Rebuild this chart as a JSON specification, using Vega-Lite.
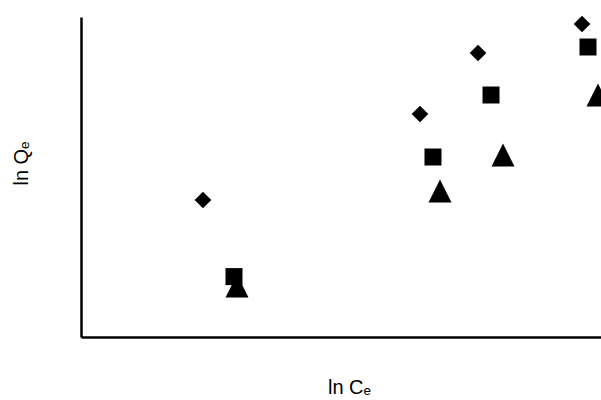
{
  "$schema": "https://vega.github.io/schema/vega-lite/v6.json",
  "autosize": "none",
  "width": 520,
  "height": 320,
  "padding": {"left": 81, "top": 17, "right": 0, "bottom": 63},
  "background": "white",
  "config": {"view": {"stroke": null}},
  "data": {
    "values": [
      {"series": "A", "lnCe": 2.346, "lnQe": 3.425},
      {"series": "A", "lnCe": 6.519, "lnQe": 5.575},
      {"series": "A", "lnCe": 7.635, "lnQe": 7.1},
      {"series": "A", "lnCe": 9.635, "lnQe": 7.825},
      {"series": "B", "lnCe": 2.942, "lnQe": 1.51},
      {"series": "B", "lnCe": 6.769, "lnQe": 4.5},
      {"series": "B", "lnCe": 7.885, "lnQe": 6.05},
      {"series": "B", "lnCe": 9.75, "lnQe": 7.25},
      {"series": "C", "lnCe": 3.0, "lnQe": 1.275},
      {"series": "C", "lnCe": 6.904, "lnQe": 3.65},
      {"series": "C", "lnCe": 8.115, "lnQe": 4.55},
      {"series": "C", "lnCe": 9.942, "lnQe": 6.05}
    ]
  },
  "mark": {"type": "point", "filled": true, "opacity": 1, "color": "black", "clip": false},
  "encoding": {
    "x": {
      "field": "lnCe", "type": "quantitative",
      "scale": {"domain": [0, 10], "nice": false, "zero": false},
      "axis": {
        "title": "ln Cₑ", "ticks": false, "labels": false, "grid": false,
        "domainColor": "black", "domainWidth": 2.5,
        "titleFont": "Liberation Sans", "titleFontSize": 20, "titleFontWeight": "normal",
        "titleColor": "black", "titlePadding": 40, "titleX": 268
      }
    },
    "y": {
      "field": "lnQe", "type": "quantitative",
      "scale": {"domain": [0, 8], "nice": false, "zero": false},
      "axis": {
        "title": "ln Qₑ", "ticks": false, "labels": false, "grid": false,
        "domainColor": "black", "domainWidth": 2.5,
        "titleFont": "Liberation Sans", "titleFontSize": 20, "titleFontWeight": "normal",
        "titleColor": "black", "titlePadding": 50, "titleY": 146
      }
    },
    "shape": {
      "field": "series", "type": "nominal",
      "scale": {"domain": ["A", "B", "C"], "range": ["M-1,0L0,-1L1,0L0,1Z", "square", "M-1,1L0,-1L1,1Z"]},
      "legend": null
    },
    "size": {
      "field": "series", "type": "nominal",
      "scale": {"type": "ordinal", "domain": ["A", "B", "C"], "range": [280, 289, 529]},
      "legend": null
    }
  }
}
